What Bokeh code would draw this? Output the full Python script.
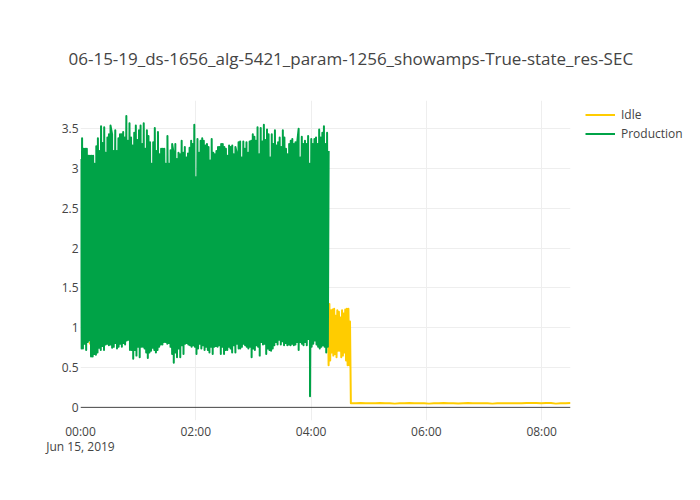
import numpy as np
from bokeh.plotting import figure
from bokeh.models import Range1d, FixedTicker, Span, Legend, LegendItem
from bokeh.embed import file_html
from bokeh.resources import INLINE

TITLE = "06-15-19_ds-1656_alg-5421_param-1256_showamps-True-state_res-SEC"
START = np.datetime64("2019-06-15T00:00:00", "ms")

# Production (green): tops and bottoms of the dense oscillation, read left to right
prod_high = [3.12, 3.38, 3.25, 3.25, 3.25, 3.16, 3.16, 3.16, 3.16, 3.06, 3.28, 3.38, 3.22, 3.53,
             3.32, 3.52, 3.20, 3.39, 3.43, 3.54, 3.43, 3.22, 3.48, 3.22, 3.38, 3.43, 3.43, 3.46,
             3.39, 3.66, 3.35, 3.57, 3.39, 3.29, 3.45, 3.54, 3.36, 3.48, 3.54, 3.31, 3.57, 3.25,
             3.48, 3.41, 3.33, 3.06, 3.33, 3.51, 3.22, 3.46, 3.18, 3.25,
             3.25, 3.25, 3.06, 3.41, 3.06, 3.23, 3.31, 3.18, 3.31, 3.12, 3.20, 3.18, 3.35, 3.20,
             3.27, 3.14, 3.19, 3.26, 3.35, 3.31, 3.55, 2.89, 3.37, 3.20, 3.35, 3.38, 3.35, 3.29,
             3.31, 3.27, 3.10, 3.37, 3.20, 3.18, 3.22, 3.27, 3.27, 3.31, 3.31, 3.27, 3.25, 3.16,
             3.29, 3.27, 3.29, 3.18, 3.27, 3.18, 3.33, 3.34, 3.14, 3.34, 3.25, 3.33,
             3.20, 3.34, 3.35, 3.43, 3.40, 3.35, 3.52, 3.18, 3.51, 3.34, 3.55, 3.36, 3.49, 3.43,
             3.14, 3.43, 3.31, 3.48, 3.29, 3.33, 3.39, 3.27, 3.48, 3.39, 3.25, 3.18, 3.31, 3.35,
             3.37, 3.31, 3.33, 3.31, 3.50, 3.14, 3.40, 3.31, 3.35, 3.31, 3.41, 3.06, 3.37, 3.31,
             3.37, 3.39, 3.31, 3.49, 3.39, 3.45, 3.53, 3.31, 3.45, 3.22]
prod_low = [0.74, 0.74, 0.80, 0.72, 0.82, 0.84, 0.64, 0.64, 0.67, 0.66, 0.69, 0.75, 0.72, 0.77,
            0.72, 0.79, 0.80, 0.78, 0.79, 0.75, 0.76, 0.81, 0.74, 0.76, 0.80, 0.76, 0.81, 0.79,
            0.84, 0.85, 0.72, 0.72, 0.61, 0.72, 0.65, 0.76, 0.63, 0.76, 0.76, 0.74, 0.69, 0.62,
            0.69, 0.71, 0.75, 0.72, 0.69, 0.72, 0.76, 0.79, 0.79,
            0.82, 0.82, 0.80, 0.81, 0.76, 0.67, 0.56, 0.69, 0.63, 0.74, 0.63, 0.78, 0.67, 0.80,
            0.81, 0.79, 0.78, 0.76, 0.78, 0.76, 0.67, 0.74, 0.80, 0.74, 0.78, 0.72, 0.76, 0.72,
            0.69, 0.76, 0.67, 0.76, 0.77, 0.76, 0.78, 0.67, 0.76, 0.67, 0.72, 0.72, 0.76, 0.74,
            0.69, 0.78, 0.69, 0.80, 0.74, 0.74, 0.76, 0.80, 0.78, 0.76, 0.74,
            0.76, 0.63, 0.74, 0.72, 0.78, 0.76, 0.65, 0.82, 0.79, 0.80, 0.67, 0.74, 0.72, 0.71,
            0.74, 0.78, 0.82, 0.79, 0.85, 0.79, 0.83, 0.78, 0.81, 0.78, 0.79, 0.78, 0.80, 0.78,
            0.79, 0.82, 0.72, 0.82, 0.80, 0.78, 0.82, 0.78, 0.86, 0.14, 0.76, 0.80, 0.84, 0.79,
            0.76, 0.74, 0.76, 0.78, 0.76, 0.69, 0.76]
prod_span_h = (0.0, 4.305)

# Idle (yellow)
idle_early_h = [0.155, 0.165]
idle_early = [0.82, 0.80]
idle_block_high = [1.41, 1.30, 1.22, 1.23, 1.24, 1.15, 1.22, 1.20, 1.13, 1.22, 1.18, 1.23, 1.24, 1.24, 1.08]
idle_block_low = [0.53, 0.59, 0.69, 0.65, 0.67, 0.63, 0.71, 0.71, 0.63, 0.65, 0.69, 0.59, 0.53, 0.53]
idle_block_span_h = (4.29, 4.675)
idle_tail = [0.052, 0.052, 0.056, 0.052, 0.052, 0.052, 0.055, 0.052, 0.052, 0.047, 0.052, 0.052,
             0.055, 0.052, 0.052, 0.052, 0.047, 0.052, 0.052, 0.055, 0.052, 0.052, 0.048, 0.052,
             0.055, 0.052, 0.052, 0.052, 0.052, 0.047, 0.052, 0.052, 0.052, 0.052, 0.052, 0.052,
             0.055, 0.055, 0.055, 0.052, 0.055, 0.055, 0.047, 0.052, 0.052, 0.055]
idle_tail_span_h = (4.69, 8.5)

x_tick_hours = [0, 2, 4, 6, 8]
x_tick_labels = ["00:00\nJun 15, 2019", "02:00", "04:00", "06:00", "08:00"]
y_ticks = [0, 0.5, 1, 1.5, 2, 2.5, 3, 3.5]
y_tick_labels = ["0", "0.5", "1", "1.5", "2", "2.5", "3", "3.5"]

GREEN = "#00A347"
YELLOW = "#FFCC00"
TXT = "#444444"
FONT = "Open Sans"


def alternate(high, low, span):
    t0, t1 = span
    th = np.linspace(t0, t1, len(high))
    step = (t1 - t0) / len(low)
    tl = t0 + (np.arange(len(low)) + 0.5) * step
    t = np.concatenate([th, tl])
    v = np.concatenate([high, low])
    order = np.argsort(t, kind="stable")
    return t[order], v[order]


def to_dt(hours):
    ms = np.round(np.asarray(hours, dtype=float) * 3600000).astype("int64")
    return START + ms.astype("timedelta64[ms]")


pt, pv = alternate(prod_high, prod_low, prod_span_h)
bt, bv = alternate(idle_block_high, idle_block_low, idle_block_span_h)
tt = np.linspace(idle_tail_span_h[0], idle_tail_span_h[1], len(idle_tail))
it = np.concatenate([idle_early_h, bt, tt])
iv = np.concatenate([idle_early, bv, idle_tail])

start_ms = float(START.astype("int64"))
hour_ms = 3600000.0

p = figure(frame_width=490, frame_height=320, x_axis_type="datetime", output_backend="svg",
           toolbar_location=None,
           x_range=Range1d(start_ms, start_ms + 8.5 * hour_ms),
           y_range=Range1d(-0.165, 3.855),
           min_border_left=80, min_border_right=130, min_border_top=100, min_border_bottom=80)
p.outline_line_color = None

r_idle = p.line(to_dt(it), iv, line_color=YELLOW, line_width=2, line_join="round")
r_prod = p.line(to_dt(pt), pv, line_color=GREEN, line_width=2, line_join="round")

xt = [start_ms + h * hour_ms for h in x_tick_hours]
p.xaxis.ticker = FixedTicker(ticks=xt)
p.xaxis.major_label_overrides = {k: v for k, v in zip(xt, x_tick_labels)}
p.xgrid.ticker = FixedTicker(ticks=xt)
p.yaxis.ticker = FixedTicker(ticks=y_ticks)
p.yaxis.major_label_overrides = {k: v for k, v in zip(y_ticks, y_tick_labels)}
p.ygrid.ticker = FixedTicker(ticks=y_ticks[1:])

for ax in (p.xaxis[0], p.yaxis[0]):
    ax.axis_line_color = None
    ax.major_tick_line_color = None
    ax.minor_tick_line_color = None
    ax.major_tick_out = 0
    ax.major_tick_in = 0
    ax.minor_tick_out = 0
    ax.minor_tick_in = 0
    ax.major_label_text_font = FONT
    ax.major_label_text_font_size = "12px"
    ax.major_label_text_color = TXT
p.xaxis.major_label_standoff = 2
p.xaxis.major_label_text_line_height = 0.92
p.yaxis.major_label_standoff = 2

for g in (p.xgrid[0], p.ygrid[0]):
    g.grid_line_color = "#eeeeee"
    g.grid_line_width = 1

zero = Span(location=0, dimension="width", line_color=TXT, line_width=1, level="underlay")
p.add_layout(zero)

p.title.text = TITLE
p.title.align = "left"
p.title.offset = -12
p.title.text_font = FONT
p.title.text_font_size = "17px"
p.title.text_font_style = "normal"
p.title.text_color = TXT
p.title.standoff = 61

legend = Legend(items=[LegendItem(label="Idle", renderers=[r_idle]),
                       LegendItem(label="Production", renderers=[r_prod])],
                location=(15, 278), margin=0, padding=0, spacing=2,
                glyph_width=30, glyph_height=17, label_height=17, label_standoff=6,
                label_text_font=FONT, label_text_font_size="12px", label_text_color=TXT,
                border_line_color=None, background_fill_alpha=0)
p.add_layout(legend, "right")

open("out.html", "w").write(file_html(p, INLINE))
